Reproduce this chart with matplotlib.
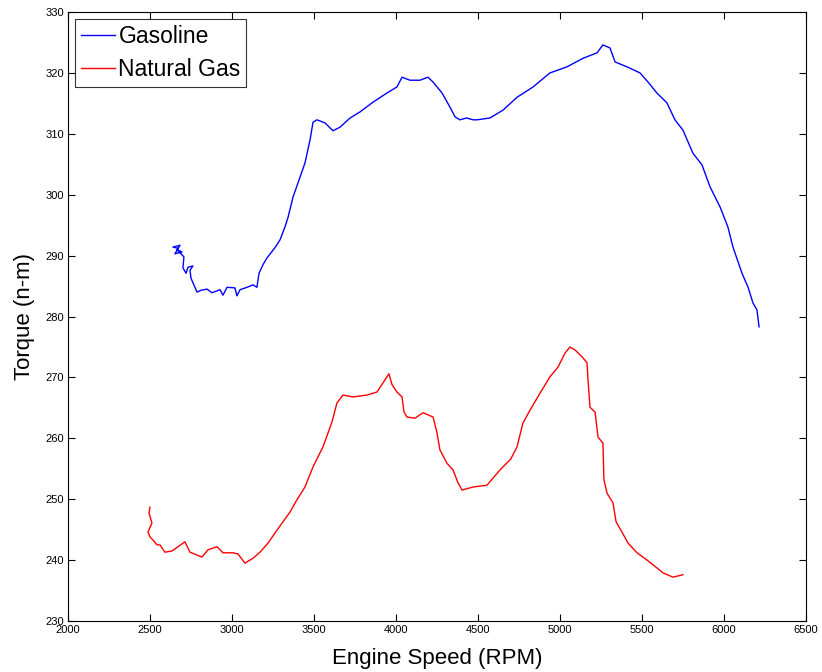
import matplotlib as mpl
mpl.use('Agg')
import matplotlib.pyplot as plt
import matplotlib.ticker as ticker

# engine speed (rpm) / torque (n-m) readings, gasoline run
gas_rpm = [2671, 2640, 2683, 2652, 2695, 2665, 2707, 2701, 2720, 2732, 2762, 2744,
           2750, 2774, 2787, 2810, 2848, 2878, 2927, 2945, 2970, 3018, 3030, 3049,
           3092, 3128, 3152, 3165, 3189, 3213, 3262, 3293, 3323, 3342, 3372, 3402,
           3445, 3476, 3494, 3518, 3567, 3616, 3659, 3720, 3781, 3860, 3945, 4006,
           4037, 4085, 4146, 4195, 4226, 4281, 4329, 4360, 4390, 4430, 4470, 4494,
           4573, 4653, 4738, 4836, 4939, 5043, 5140, 5226, 5262, 5305, 5336, 5409,
           5488, 5537, 5591, 5652, 5701, 5750, 5811, 5866, 5915, 5976, 6024, 6055,
           6110, 6147, 6177, 6201, 6214]
gas_torque = [291.2, 291.4, 291.7, 290.3, 290.6, 291.0, 289.8, 288.0, 287.1, 288.1,
              288.3, 287.6, 286.3, 284.8, 284.0, 284.3, 284.5, 283.9, 284.4, 283.5,
              284.8, 284.7, 283.4, 284.4, 284.8, 285.2, 284.8, 287.1, 288.5, 289.6,
              291.3, 292.6, 294.7, 296.3, 299.6, 301.9, 305.2, 309.0, 311.9, 312.3,
              311.8, 310.5, 311.1, 312.6, 313.6, 315.2, 316.7, 317.7, 319.3, 318.8,
              318.8, 319.3, 318.5, 316.7, 314.4, 312.8, 312.3, 312.6, 312.3, 312.3,
              312.6, 313.9, 316.0, 317.7, 320.0, 321.0, 322.4, 323.3, 324.6, 324.1,
              321.8, 321.0, 320.0, 318.5, 316.7, 315.1, 312.3, 310.6, 306.8, 304.9,
              301.3, 298.0, 294.7, 291.4, 287.1, 284.8, 282.2, 281.1, 278.3]

# natural gas run
ng_rpm = [2500, 2494, 2512, 2488, 2500, 2518, 2543, 2561, 2591, 2634, 2671, 2713,
          2744, 2817, 2854, 2909, 2945, 3006, 3037, 3079, 3128, 3171, 3220, 3274,
          3311, 3354, 3396, 3445, 3494, 3555, 3610, 3640, 3677, 3738, 3823, 3884,
          3921, 3957, 3976, 4006, 4037, 4049, 4067, 4116, 4165, 4226, 4250, 4268,
          4311, 4348, 4378, 4403, 4470, 4555, 4634, 4700, 4738, 4774, 4817, 4878,
          4939, 4988, 5031, 5061, 5092, 5134, 5165, 5171, 5183, 5214, 5232, 5262,
          5268, 5287, 5323, 5342, 5378, 5415, 5470, 5531, 5592, 5628, 5689, 5750]
ng_torque = [248.7, 247.7, 246.1, 244.6, 243.8, 243.3, 242.5, 242.5, 241.3, 241.5,
             242.2, 243.0, 241.3, 240.5, 241.7, 242.2, 241.2, 241.2, 241.0, 239.5,
             240.3, 241.3, 242.8, 244.9, 246.3, 247.9, 249.9, 252.0, 255.3, 258.6,
             262.7, 265.8, 267.1, 266.8, 267.1, 267.6, 269.1, 270.6, 268.8, 267.6,
             266.8, 264.3, 263.5, 263.3, 264.2, 263.5, 260.9, 258.1, 255.9, 254.8,
             252.7, 251.5, 252.0, 252.3, 254.8, 256.6, 258.6, 262.5, 264.6, 267.4,
             270.1, 271.7, 274.0, 275.0, 274.5, 273.4, 272.4, 269.6, 265.1, 264.3,
             260.2, 259.2, 253.2, 251.0, 249.4, 246.3, 244.6, 242.8, 241.2, 240.0,
             238.7, 237.9, 237.2, 237.6]

labels = ['Gasoline', 'Natural Gas']

plt.rcParams['font.family'] = ['Liberation Sans', 'DejaVu Sans']

fig = plt.figure(figsize=(8.22, 6.72), dpi=100)
ax = fig.add_axes([0.0827, 0.0759, 0.8978, 0.9062])

ax.plot(gas_rpm, gas_torque, color='blue', lw=1.0, label=labels[0])
ax.plot(ng_rpm, ng_torque, color='red', lw=1.0, label=labels[1])

ax.set_xlim(2000, 6500)
ax.set_ylim(230, 330)
ax.xaxis.set_major_locator(ticker.MultipleLocator(500))
ax.yaxis.set_major_locator(ticker.MultipleLocator(10))
ax.tick_params(direction='in', length=5, width=0.8, top=True, right=True,
               labelsize=8, pad=3)
for lab in ax.get_xticklabels() + ax.get_yticklabels():
    lab.set_fontstretch('condensed')
for sp in ax.spines.values():
    sp.set_linewidth(0.8)

ax.set_xlabel('Engine Speed (RPM)', fontsize=16, labelpad=9)
ax.set_ylabel('Torque (n-m)', fontsize=16, labelpad=7)

leg = ax.legend(loc='upper left', fontsize=16.5, frameon=True, fancybox=False,
                borderpad=0.25, handlelength=1.5, handletextpad=0.15,
                labelspacing=0.45, borderaxespad=0.3)
leg.get_frame().set_edgecolor('black')
leg.get_frame().set_linewidth(0.8)

plt.savefig('out.png', dpi=100)
plt.close()
